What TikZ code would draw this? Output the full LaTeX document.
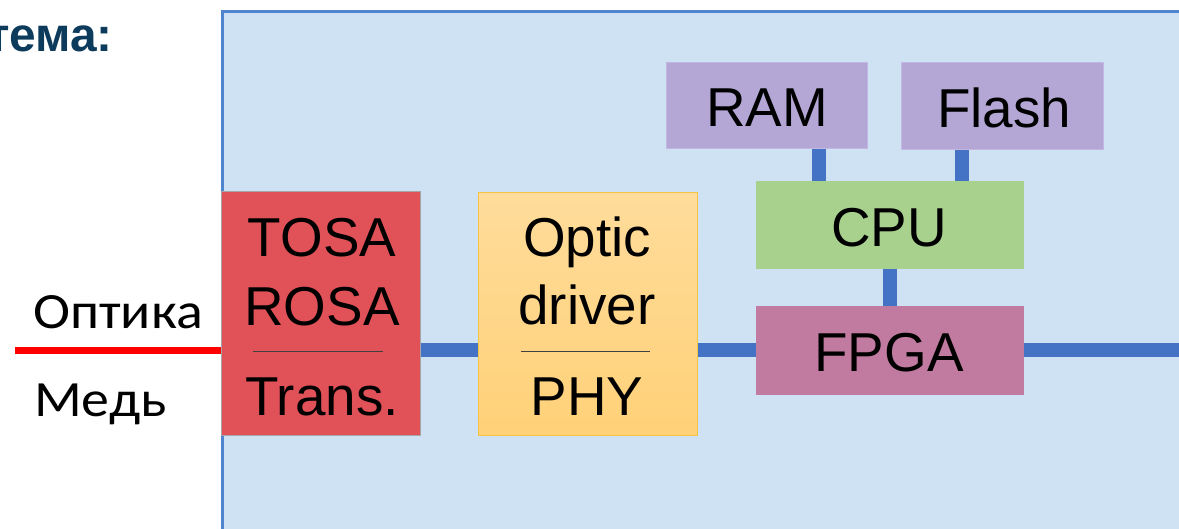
\documentclass[tikz,border=0pt]{standalone}
\usepackage{fontspec}
\setmainfont{Liberation Sans}
\newfontfamily\calib[FakeStretch=1.1]{Carlito}
\usetikzlibrary{calc}
\definecolor{panelfill}{HTML}{CFE2F3}
\definecolor{paneldraw}{HTML}{4F85CF}
\definecolor{link}{HTML}{4472C4}
\definecolor{tosafill}{HTML}{E15158}
\definecolor{optictop}{HTML}{FFDC9B}
\definecolor{opticbot}{HTML}{FFD178}
\definecolor{opticdraw}{HTML}{F5C445}
\definecolor{memfill}{HTML}{B4A7D6}
\definecolor{memdraw}{HTML}{C2B7E0}
\definecolor{cpufill}{HTML}{A9D18E}
\definecolor{fpgafill}{HTML}{C27BA0}
\definecolor{titlecol}{HTML}{0D3B5C}
\tikzset{
  blk/.style={rectangle, inner sep=0pt, line width=1bp},
  lbl/.style={anchor=base, inner sep=0pt, font=\fontsize{55}{60}\selectfont},
  sidelbl/.style={anchor=base west, inner sep=0pt, font=\calib\fontsize{51}{56}\selectfont},
  bus/.style={draw=link, line width=14bp},
  sep/.style={draw=black!75, line width=1bp},
}
\begin{document}
\begin{tikzpicture}[x=1bp,y=-1bp]
\useasboundingbox (0,0) rectangle (1179,529);
\clip (0,0) rectangle (1179,529);
% title
\node[anchor=base east, inner sep=0pt, text=titlecol, font=\bfseries\fontsize{48}{53}\selectfont] (title) at (113,52) {тема:};
% panel
\node[blk, draw=paneldraw, fill=panelfill, line width=3bp, anchor=north west, minimum width=1000bp, minimum height=560bp] (panel) at (221,10) {};
% boxes
\node[blk, draw=gray!70, fill=tosafill, minimum width=199bp, minimum height=243bp] (tosa) at (320.5,313.5) {};
\node[blk, draw=opticdraw, top color=optictop, bottom color=opticbot, minimum width=219bp, minimum height=242bp] (optic) at (587.5,314) {};
\node[blk, draw=memdraw, fill=memfill, minimum width=201bp, minimum height=86bp] (ram) at (766.5,106) {};
\node[blk, draw=memdraw, fill=memfill, minimum width=202bp, minimum height=87bp] (flash) at (1002,106.5) {};
\node[blk, draw=cpufill, fill=cpufill, minimum width=267bp, minimum height=87bp] (cpu) at (889.5,225.5) {};
\node[blk, draw=fpgafill, fill=fpgafill, minimum width=267bp, minimum height=87bp] (fpga) at (889.5,350.5) {};
% link coordinates
\coordinate (ramlink) at (819,0);
\coordinate (flashlink) at (962,0);
\coordinate (rightend) at (1179,350.5);
\coordinate (redstart) at (15,351);
% connectors
\draw[bus] (tosa.east |- fpga.west) -- (optic.west |- fpga.west);
\draw[bus] (optic.east |- fpga.west) -- (fpga.west);
\draw[bus] (fpga.east) -- (rightend);
\draw[bus] (ram.south -| ramlink) -- (cpu.north -| ramlink);
\draw[bus] (flash.south -| flashlink) -- (cpu.north -| flashlink);
\draw[bus] (cpu.south) -- (fpga.north);
\draw[red, line width=7bp] (redstart) -- (tosa.west |- redstart);
% texts
\node[lbl] (t1) at (322,257) {TOSA};
\node[lbl] (t2) at (322,326) {ROSA};
\node[lbl] (t3) at (322,415) {Trans.};
\coordinate (tsa) at (253,352);
\coordinate (tsb) at (383,352);
\draw[sep] (tsa) -- (tsb);
\node[lbl] (o1) at (587,257) {Optic};
\node[lbl] (o2) at (587,325) {driver};
\node[lbl] (o3) at (587,415) {PHY};
\coordinate (osa) at (521,352);
\coordinate (osb) at (650,352);
\draw[sep] (osa) -- (osb);
\node[lbl] (r1) at (767,127) {RAM};
\node[lbl] (f1) at (1004,128) {Flash};
\node[lbl] (c1) at (889,247) {CPU};
\node[lbl] (g1) at (889,372) {FPGA};
\node[sidelbl] (opt) at (33,329) {Оптика};
\node[sidelbl] (med) at (34,416) {Медь};
\end{tikzpicture}
\end{document}
